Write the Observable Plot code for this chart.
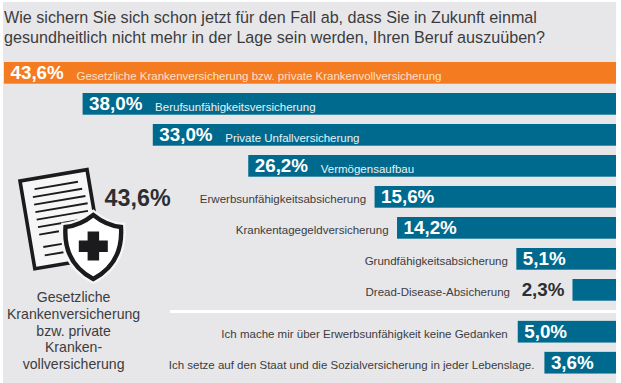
<!DOCTYPE html>
<html><head><meta charset="utf-8">
<script src="https://cdn.jsdelivr.net/npm/d3@7"></script>
<script src="https://cdn.jsdelivr.net/npm/@observablehq/plot@0.6"></script>
<style>
html,body{margin:0;padding:0;background:#fff;overflow:hidden}
#panel{position:absolute;left:3px;top:2px;width:613px;height:381px;background:#e7e7e9}
#title{position:absolute;left:1px;top:6px;width:612px;font:16.15px/19.5px "Liberation Sans",sans-serif;color:#3c3c3e;white-space:nowrap}
#chart{position:absolute;left:0;top:58px}
</style></head><body>
<div id="panel"><div id="title">Wie sichern Sie sich schon jetzt für den Fall ab, dass Sie in Zukunft einmal<br>gesundheitlich nicht mehr in der Lage sein werden, Ihren Beruf auszuüben?</div></div>
<div id="chart"></div>
<script>
const categories = ["Gesetzliche Krankenversicherung bzw. private Krankenvollversicherung","Berufsunfähigkeitsversicherung","Private Unfallversicherung","Vermögensaufbau","Erwerbsunfähigkeitsabsicherung","Krankentagegeldversicherung","Grundfähigkeitsabsicherung","Dread-Disease-Absicherung","Ich mache mir über Erwerbsunfähigkeit keine Gedanken","Ich setze auf den Staat und die Sozialversicherung in jeder Lebenslage."];
const valueLabels = ["43,6%","38,0%","33,0%","26,2%","15,6%","14,2%","5,1%","2,3%","5,0%","3,6%"];
// Drawn bar lengths (the original's lower bars are not to the scale of their labels)
const barLengths = [43.6,38.0,33.0,26.2,17.2,15.6,7.1,3.1,7.0,5.1];
const sideLines = ["Gesetzliche","Krankenversicherung","bzw. private","Kranken-","vollversicherung"];
const sideValue = ["43,6%"];

const rows = categories.map((c,i)=>({c,label:valueLabels[i],len:barLengths[i],row:i<8?i:i+0.35,i}));
const inside = rows.filter(d=>d.i<4), outside = rows.filter(d=>d.i>=4);
const F = "Liberation Sans";
const offsetTop = 58;

function icon(){
  const g = d3.create("svg:g").attr("transform",`translate(0,${-offsetTop})`);
  const k = "#1b1b1d";
  const doc = g.append("g").attr("transform","translate(20,181) rotate(-9.6)");
  doc.append("rect").attr("x",0).attr("y",0).attr("width",68).attr("height",89).attr("fill","#f6f6f7").attr("stroke",k).attr("stroke-width",3.6);
  [[13,44],[10,50],[10,52],[10,53],[10,52],[10,44],[10,20]].forEach(([x,w],i)=>doc.append("rect").attr("x",x).attr("y",9.5+i*7.6).attr("width",w).attr("height",1.9).attr("fill",k));
  [0,1].forEach(i=>doc.append("rect").attr("x",12).attr("y",68+i*8.5).attr("width",19).attr("height",1.9).attr("fill",k));
  const shield="M93.3,215 C102,222 110,226 121,227 C122.5,250 114,268 93.3,279 C72.5,268 64,250 65.5,227 C76.5,226 84.5,222 93.3,215 Z";
  g.append("path").attr("d",shield).attr("fill","#fff").attr("stroke","#f6f6f7").attr("stroke-width",9);
  g.append("path").attr("d",shield).attr("fill","#fff").attr("stroke",k).attr("stroke-width",4.4);
  g.append("rect").attr("x",78.8).attr("y",240.5).attr("width",29).attr("height",11.5).attr("fill",k);
  g.append("rect").attr("x",87.6).attr("y",231.5).attr("width",11.5).attr("height",29).attr("fill",k);
  return g.node();
}

const plot = Plot.plot({
  width:621, height:325, margin:0,
  style:{background:"transparent",fontFamily:F},
  x:{domain:[0,43.6],range:[616,4],axis:null},
  y:{domain:[0,10],range:[62-offsetTop,372-offsetTop],axis:null},
  marks:[
    Plot.rect(rows,{x1:0,x2:"len",y1:"row",y2:d=>d.row+0.7,fill:d=>d.i===0?"#f47b20":"#006a8e"}),
    Plot.ruleY([8.03],{x1:31.77,x2:0,stroke:"#fff",strokeWidth:3}),
    Plot.text(rows.filter(d=>d.i!==7),{x:"len",y:d=>d.row+0.35,text:"label",dx:6,dy:-0.5,textAnchor:"start",fill:"#fff",fontSize:18.8,fontWeight:"bold",fontFamily:F}),
    Plot.text(rows.filter(d=>d.i===7),{x:"len",y:d=>d.row+0.35,text:"label",dx:-8.5,dy:-0.5,textAnchor:"end",fill:"#2e2e30",fontSize:18.8,fontWeight:"bold",fontFamily:F}),
    Plot.text(inside,{x:"len",y:d=>d.row+0.35,text:"c",dx:72,dy:3,textAnchor:"start",fill:d=>d.i===0?"#fde0c8":"#e8f2f6",fontSize:11.5,fontFamily:F}),
    Plot.text(outside.filter(d=>d.i<7),{x:"len",y:d=>d.row+0.35,text:"c",dx:-9,dy:2,textAnchor:"end",fill:"#3c3c3e",fontSize:11.5,fontFamily:F}),
    Plot.text(outside.filter(d=>d.i===7),{x:"len",y:d=>d.row+0.35,text:"c",dx:-63,dy:2,textAnchor:"end",fill:"#3c3c3e",fontSize:11.5,fontFamily:F}),
    Plot.text(outside.filter(d=>d.i>7),{x:"len",y:d=>d.row+0.35,text:"c",dx:-10.5,dy:2,textAnchor:"end",fill:"#3c3c3e",fontSize:11.5,fontFamily:F}),
    icon,
    Plot.text(sideValue,{x:36.47,y:4.39,text:d=>d,textAnchor:"start",fill:"#2e2e30",fontSize:23.3,fontWeight:"bold",fontFamily:F}),
    Plot.text(sideLines,{x:38.68,y:(d,i)=>7.59+i*0.539,text:d=>d,textAnchor:"middle",fill:"#3c3c3e",fontSize:14.1,fontFamily:F})
  ]
});
document.getElementById("chart").append(plot);
</script></body></html>
